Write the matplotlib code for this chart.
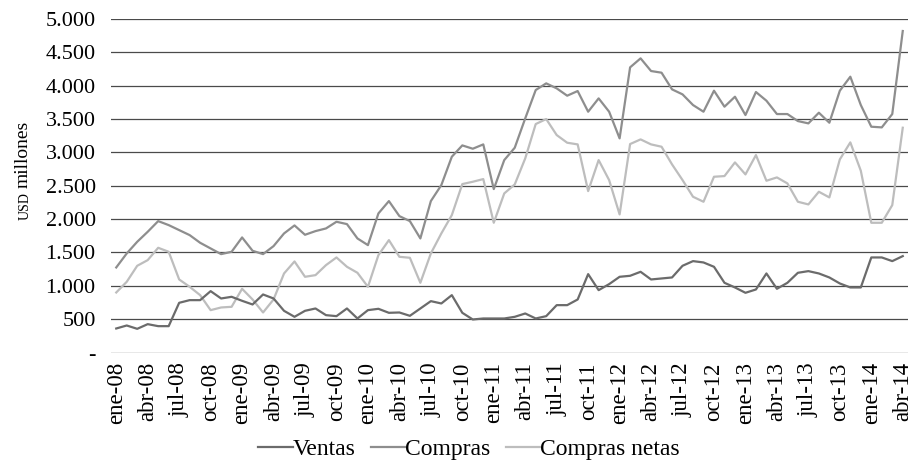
import matplotlib
matplotlib.use('Agg')
import matplotlib.pyplot as plt
import numpy as np

plt.rcParams['font.family'] = ['Liberation Serif', 'DejaVu Serif']

# meses ene-08 .. abr-14
meses = ['ene', 'feb', 'mar', 'abr', 'may', 'jun', 'jul', 'ago', 'sep', 'oct', 'nov', 'dic']
fechas = [f'{meses[i % 12]}-{8 + i // 12:02d}' for i in range(76)]

ventas = [360, 405, 355, 425, 395, 395, 745, 785, 785, 920, 810, 835, 775, 720, 870, 810,
          625, 535, 625, 660, 560, 545, 660, 510, 635, 655, 595, 600, 550, 660, 770, 735,
          860, 595, 495, 510, 510, 510, 535, 585, 510, 545, 710, 710, 795, 1175, 935, 1025,
          1135, 1150, 1210, 1095, 1110, 1125, 1300, 1370, 1350, 1285, 1045, 975, 895, 945,
          1185, 955, 1045, 1195, 1220, 1185, 1125, 1035, 975, 975, 1425, 1425, 1370, 1445]

compras = [1275, 1485, 1660, 1810, 1970, 1910, 1835, 1760, 1645, 1560, 1475, 1510, 1725, 1525,
           1475, 1595, 1785, 1905, 1765, 1820, 1860, 1960, 1925, 1710, 1610, 2085, 2270, 2045,
           1970, 1710, 2270, 2510, 2935, 3105, 3055, 3120, 2450, 2885, 3070, 3510, 3935, 4035,
           3960, 3850, 3920, 3610, 3810, 3610, 3210, 4275, 4410, 4220, 4195, 3945, 3870, 3710,
           3610, 3925, 3685, 3835, 3560, 3905, 3775, 3575, 3575, 3470, 3435, 3595, 3445, 3925,
           4135, 3710, 3385, 3375, 3575, 4820]

compras_netas = [900, 1060, 1300, 1385, 1570, 1510, 1095, 985, 860, 635, 675, 685, 955, 795,
                 600, 795, 1185, 1365, 1135, 1160, 1310, 1425, 1285, 1195, 985, 1460, 1685, 1435,
                 1420, 1045, 1485, 1785, 2060, 2525, 2560, 2600, 1945, 2385, 2520, 2910, 3425,
                 3500, 3260, 3145, 3120, 2420, 2885, 2585, 2070, 3125, 3195, 3120, 3085, 2820,
                 2585, 2335, 2260, 2635, 2645, 2850, 2670, 2960, 2575, 2625, 2535, 2260, 2220,
                 2410, 2325, 2895, 3150, 2725, 1945, 1945, 2210, 3370]

yticks = [0, 500, 1000, 1500, 2000, 2500, 3000, 3500, 4000, 4500, 5000]
ylabels = ['-', '500', '1.000', '1.500', '2.000', '2.500', '3.000', '3.500', '4.000', '4.500', '5.000']

fig = plt.figure(figsize=(9.16, 4.61), dpi=100)
ax = fig.add_axes([111 / 916, 1 - 352.5 / 461, 797 / 916, 333.5 / 461])

x = np.arange(len(fechas))
for v in yticks:
    ax.axhline(v, color='#4a4a4a', lw=0.9, zorder=1)

ax.plot(x, ventas, color='#6b6b6b', lw=1.6, label='Ventas', zorder=3)
ax.plot(x, compras, color='#8e8e8e', lw=1.6, label='Compras', zorder=3)
ax.plot(x, compras_netas, color='#bdbdbd', lw=1.6, label='Compras netas', zorder=2)

ax.set_xlim(-0.5, len(fechas) - 0.5)
ax.set_ylim(0, 5000)
ax.set_yticks(yticks)
ax.set_yticklabels(ylabels, fontsize=16)
ax.set_xticks(x[::3])
ax.set_xticklabels(fechas[::3], rotation=90, fontsize=16.5)
ax.tick_params(axis='both', length=0)
ax.tick_params(axis='y', pad=11)
ax.tick_params(axis='x', pad=7)
for s in ax.spines.values():
    s.set_visible(False)

# y label: "USD" en versalitas + "millones"
fig.text(23 / 916, 1 - 188 / 461, 'millones', rotation=90, fontsize=14,
         ha='center', va='bottom')
fig.text(25 / 916, 1 - 192 / 461, 'USD', rotation=90, fontsize=10,
         ha='center', va='top')

fig.legend(loc='center', bbox_to_anchor=(469 / 916, 1 - 449 / 461), ncol=3, frameon=False,
           fontsize=17, handlelength=1.45, handletextpad=0.0, columnspacing=0.65,
           borderpad=0, borderaxespad=0)

fig.savefig('out.png', dpi=100)
